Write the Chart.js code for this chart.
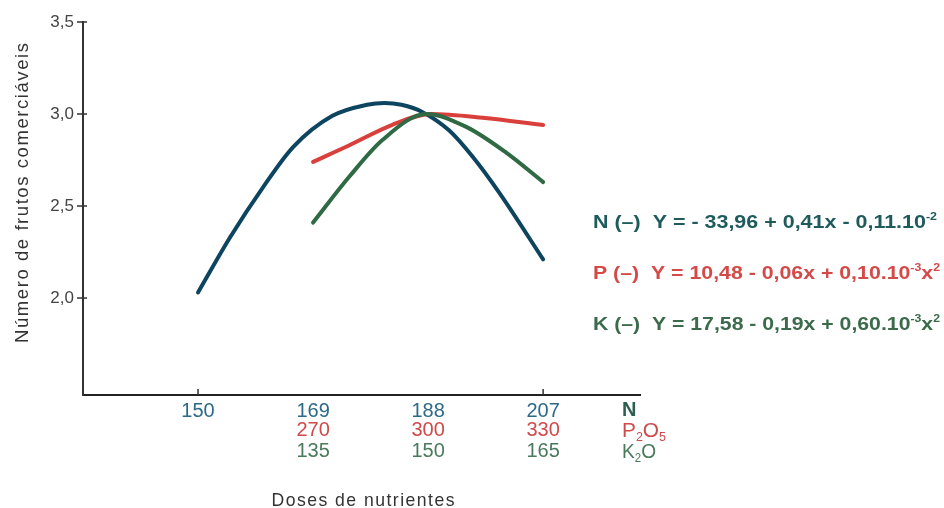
<!DOCTYPE html>
<html>
<head>
<meta charset="utf-8">
<script src="https://cdn.jsdelivr.net/npm/chart.js@4/dist/chart.umd.min.js"></script>
<style>
  html, body { margin: 0; padding: 0; background: #ffffff; }
  #wrap { width: 944px; height: 508px; position: relative; }
</style>
</head>
<body>
<div id="wrap"><canvas id="c" width="944" height="508"></canvas></div>
<script>
// ---- data ----
const nX = [150, 155.3, 160.7, 165.7, 172.2, 177.9, 180.8, 183.6, 187.1, 191.5, 195.3, 199.8, 207];
const nY = [2.03, 2.33, 2.60, 2.82, 2.99, 3.05, 3.06, 3.05, 3.01, 2.91, 2.77, 2.57, 2.21];
const pX = [169, 175, 182, 188.5, 197, 207];
const pY = [2.74, 2.83, 2.94, 3.00, 2.98, 2.94];
const kX = [169, 175, 180.5, 187.7, 194.3, 200.9, 207];
const kY = [2.41, 2.66, 2.86, 3.00, 2.93, 2.79, 2.63];

const nTicks = [150, 169, 188, 207];
const pTickLabels = ['', '270', '300', '330'];
const kTickLabels = ['', '135', '150', '165'];
const yTicks = [2.0, 2.5, 3.0, 3.5];

const yTitle = 'Número de frutos comerciáveis';
const xTitle = 'Doses de nutrientes';

const eqN = [{t: 'N (–)  Y = - 33,96 + 0,41x - 0,11.10'}, {t: '-2', sup: true}];
const eqP = [{t: 'P (–)  Y = 10,48 - 0,06x + 0,10.10'}, {t: '-3', sup: true}, {t: 'x'}, {t: '2', sup: true}];
const eqK = [{t: 'K (–)  Y = 17,58 - 0,19x + 0,60.10'}, {t: '-3', sup: true}, {t: 'x'}, {t: '2', sup: true}];

const colN = '#0d4560', colP = '#d9403c', colK = '#2f6a44';
const txtN = '#2c6a88', txtP = '#cf4a4a', txtK = '#4a7a5c';
const eqColN = '#1f5a5c', eqColP = '#d44a48', eqColK = '#3b6b4b';

const toPts = (xs, ys) => xs.map((x, i) => ({x: x, y: ys[i]}));

const FONT = "'Liberation Sans', Arial, sans-serif";

// draw text segments fitted horizontally to a target width
function drawSegs(ctx, segs, x, y, size, color, targetW, bold, align) {
  ctx.save();
  ctx.fillStyle = color;
  ctx.textBaseline = 'alphabetic';
  ctx.textAlign = 'left';
  const b = bold ? 'bold ' : '';
  const main = b + size + 'px ' + FONT;
  const sup = b + Math.round(size * 0.6) + 'px ' + FONT;
  let w = 0;
  segs.forEach(s => { ctx.font = s.sup ? sup : (s.sub ? sup : main); w += ctx.measureText(s.t).width; });
  const sx = targetW ? targetW / w : 1;
  const startX = align === 'center' ? x - (w * sx) / 2 : x;
  ctx.translate(startX, y);
  ctx.scale(sx, 1);
  let cx = 0;
  segs.forEach(s => {
    ctx.font = (s.sup || s.sub) ? sup : main;
    const dy = s.sup ? -size * 0.42 : (s.sub ? size * 0.22 : 0);
    ctx.fillText(s.t, cx, dy);
    cx += ctx.measureText(s.t).width;
  });
  ctx.restore();
}

const extras = {
  id: 'extras',
  afterDraw(chart) {
    const ctx = chart.ctx;
    const xs = chart.scales.x, ys = chart.scales.y;
    const ca = chart.chartArea;
    ctx.save();
    // crossing tick marks on y axis
    ctx.strokeStyle = '#333';
    ctx.lineWidth = 1.5;
    yTicks.forEach(v => {
      const py = ys.getPixelForValue(v);
      ctx.beginPath(); ctx.moveTo(ca.left - 6, py); ctx.lineTo(ca.left + 4, py); ctx.stroke();
    });
    // small ticks above the x axis at the end doses
    [nTicks[0], nTicks[nTicks.length - 1]].forEach(v => {
      const px = xs.getPixelForValue(v);
      ctx.beginPath(); ctx.moveTo(px, ca.bottom); ctx.lineTo(px, ca.bottom - 6); ctx.stroke();
    });
    // second and third tick rows
    ctx.font = '20px ' + FONT;
    ctx.textAlign = 'center';
    ctx.textBaseline = 'middle';
    nTicks.forEach((v, i) => {
      const px = xs.getPixelForValue(v);
      ctx.fillStyle = txtP; ctx.fillText(pTickLabels[i], px, 430);
      ctx.fillStyle = txtK; ctx.fillText(kTickLabels[i], px, 451);
    });
    ctx.restore();
    // row labels
    drawSegs(ctx, [{t: 'N'}], 622, 416, 20, '#2e5e50', 0, true);
    drawSegs(ctx, [{t: 'P'}, {t: '2', sub: true}, {t: 'O'}, {t: '5', sub: true}], 622, 437, 20, txtP, 44, false);
    drawSegs(ctx, [{t: 'K'}, {t: '2', sub: true}, {t: 'O'}], 622, 458, 20, txtK, 34, false);
    // x title
    drawSegs(ctx, [{t: xTitle.split('').join('\u200A')}], 363, 506, 19, '#333', 183, false, 'center');
    // y title
    ctx.save();
    ctx.translate(28, 193);
    ctx.rotate(-Math.PI / 2);
    drawSegs(ctx, [{t: yTitle.split('').join('\u200A')}], 0, 0, 19, '#333', 300, false, 'center');
    ctx.restore();
    // equations
    drawSegs(ctx, eqN, 593, 228, 19, eqColN, 344, true);
    drawSegs(ctx, eqP, 593, 279, 19, eqColP, 347, true);
    drawSegs(ctx, eqK, 593, 330, 19, eqColK, 347, true);
  }
};

const lineDs = (label, pts, color) => ({
  label: label, data: pts, showLine: true, borderColor: color, backgroundColor: color,
  borderWidth: 4, pointRadius: 0, cubicInterpolationMode: 'monotone', fill: false,
  borderCapStyle: 'round'
});

new Chart(document.getElementById('c'), {
  type: 'scatter',
  data: {
    datasets: [
      lineDs('K', toPts(kX, kY), colK),
      lineDs('P', toPts(pX, pY), colP),
      lineDs('N', toPts(nX, nY), colN)
    ]
  },
  options: {
    responsive: false,
    animation: false,
    devicePixelRatio: 1,
    layout: { padding: { left: 0, right: 304, top: 22, bottom: 0 } },
    plugins: { legend: { display: false }, tooltip: { enabled: false } },
    scales: {
      x: {
        type: 'linear', min: 131, max: 223,
        afterFit: s => { s.height = 113; },
        afterBuildTicks: s => { s.ticks = nTicks.map(v => ({value: v})); },
        grid: { drawOnChartArea: false, drawTicks: false },
        border: { display: true, color: '#222', width: 2 },
        ticks: { color: txtN, font: { family: FONT, size: 20 }, padding: 4, maxRotation: 0, autoSkip: false,
                 callback: v => String(v) }
      },
      y: {
        type: 'linear', min: 1.473, max: 3.5,
        afterFit: s => { s.width = 83; },
        afterBuildTicks: s => { s.ticks = yTicks.map(v => ({value: v})); },
        grid: { drawOnChartArea: false, drawTicks: false },
        border: { display: true, color: '#333', width: 2 },
        ticks: { color: '#444', font: { family: FONT, size: 17 }, padding: 9,
                 callback: v => v.toFixed(1).replace('.', ',') }
      }
    }
  },
  plugins: [extras]
});
</script>
</body>
</html>
